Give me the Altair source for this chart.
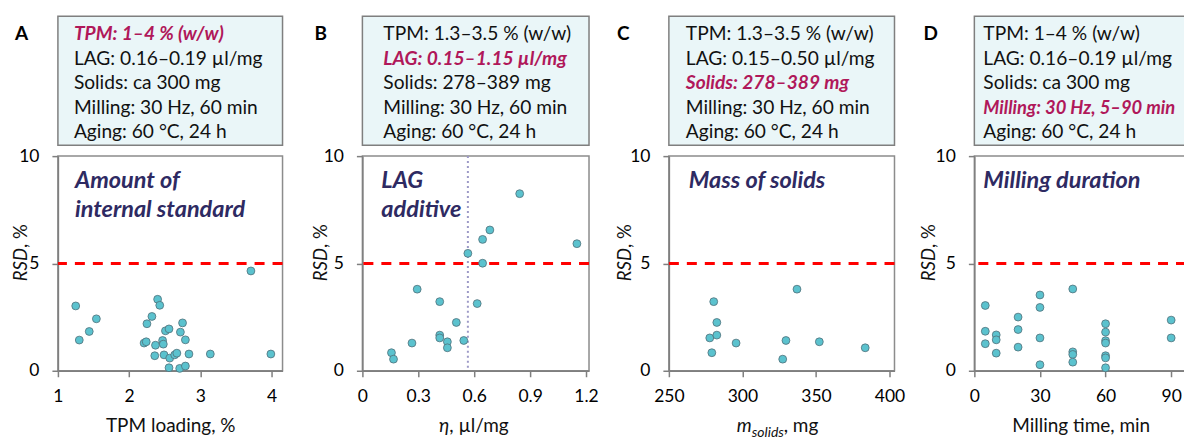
import altair as alt
import pandas as pd

FONT = "Lato"
INK = "#111111"
TITLE_INK = "#2E2A62"
HILITE = "#B0185A"
BOX_FILL = "#EAF6F8"
BOX_EDGE = "#7F7F7F"
FRAME = "#8C8C8C"
AXIS = "#7F7F7F"
DOT_FILL = "#5BC2CE"
DOT_STROKE = "#50707A"

# ---------------- data ----------------
# A: amount of internal standard
tpm_loading = [1.25, 1.30, 1.44, 1.54, 2.40, 2.43, 2.32, 2.25, 2.21, 2.24, 2.37, 2.47,
               2.48, 2.51, 2.56, 2.36, 2.49, 2.57, 2.64, 2.67, 2.72, 2.75, 2.79, 2.84,
               2.56, 2.71, 2.79, 3.14, 3.71, 3.99]
tpm_rsd = [3.02, 1.43, 1.83, 2.42, 3.33, 3.05, 2.53, 2.19, 1.29, 1.35, 1.19, 1.41,
           1.24, 1.86, 1.95, 0.70, 0.74, 0.59, 0.74, 0.82, 1.80, 2.23, 1.44, 0.78,
           0.14, 0.11, 0.22, 0.78, 4.65, 0.78]

# B: LAG additive
lag_eta = [0.156, 0.167, 0.266, 0.294, 0.415, 0.415, 0.415, 0.456, 0.456, 0.504,
           0.544, 0.566, 0.616, 0.645, 0.645, 0.684, 0.844, 1.151]
lag_rsd = [0.84, 0.54, 1.29, 3.80, 3.22, 1.66, 1.53, 1.35, 1.07, 2.25,
           1.41, 5.47, 3.13, 6.12, 5.01, 6.56, 8.25, 5.92]
lag_marker = [0.566]

# C: mass of solids
solids_mg = [277.8, 279.2, 280.5, 282.6, 282.6, 295.7, 327.4, 329.6, 337.1, 352.3, 383.5]
solids_rsd = [1.53, 0.84, 3.22, 2.25, 1.66, 1.29, 0.54, 1.41, 3.80, 1.35, 1.07]

# D: milling duration
mill_min = [5, 5, 5, 10, 10, 10, 20, 20, 20, 30, 30, 30, 30, 45, 45, 45, 45,
            60, 60, 60, 60, 60, 60, 60, 90, 90]
mill_rsd = [3.04, 1.84, 1.26, 1.67, 1.44, 0.82, 2.50, 1.92, 1.10, 3.53, 2.95, 1.53, 0.28,
            3.81, 0.88, 0.76, 0.40, 2.19, 1.80, 1.40, 1.29, 0.70, 0.60, 0.14, 2.36, 1.53]

threshold = [5]
rsd_ticks = [0, 5, 10]

box_A = ["TPM: 1–4 % (w/w)", "LAG: 0.16–0.19 µl/mg", "Solids: ca 300 mg",
         "Milling: 30 Hz, 60 min", "Aging: 60 °C, 24 h"]
box_B = ["TPM: 1.3–3.5 % (w/w)", "LAG: 0.15–1.15 µl/mg", "Solids: 278–389 mg",
         "Milling: 30 Hz, 60 min", "Aging: 60 °C, 24 h"]
box_C = ["TPM: 1.3–3.5 % (w/w)", "LAG: 0.15–0.50 µl/mg", "Solids: 278–389 mg",
         "Milling: 30 Hz, 60 min", "Aging: 60 °C, 24 h"]
box_D = ["TPM: 1–4 % (w/w)", "LAG: 0.16–0.19 µl/mg", "Solids: ca 300 mg",
         "Milling: 30 Hz, 5–90 min", "Aging: 60 °C, 24 h"]

BOX_H = 129
PLOT_H = 215
BOX_FS = 19.2
TITLE_FS = 19


def box(letter, lines, hi, width, text_x, letter_x, hi_fs=BOX_FS):
    df = pd.DataFrame({"line": list(range(len(lines))), "text": lines,
                       "hi": [i == hi for i in range(len(lines))]})
    y = alt.Y("line:Q", axis=None, scale=alt.Scale(domain=[0, 4], range=[18, 116]))
    normal = alt.Chart(df).transform_filter("!datum.hi").mark_text(
        align="left", baseline="middle", fontSize=BOX_FS, color=INK
    ).encode(x=alt.value(text_x), y=y, text="text:N")
    hl = alt.Chart(df).transform_filter("datum.hi").mark_text(
        align="left", baseline="middle", fontSize=hi_fs, fontStyle="italic",
        fontWeight="bold", color=HILITE
    ).encode(x=alt.value(text_x), y=y, text="text:N")
    lab = alt.Chart(pd.DataFrame({"t": [letter]})).mark_text(
        align="left", baseline="middle", fontSize=19, fontWeight="bold", color="#000000"
    ).encode(x=alt.value(letter_x), y=alt.value(18), text="t:N")
    return alt.layer(normal, hl, lab).properties(
        width=width, height=BOX_H,
        view=alt.ViewBackground(fill=BOX_FILL, stroke=BOX_EDGE, strokeWidth=1.5),
    )


def panel(xs, ys, domain, ticks, width, ylab_x, label_lines, label_x, xtitle, vline=None):
    df = pd.DataFrame({"x": xs, "rsd": ys})
    xenc = alt.X("x:Q", scale=alt.Scale(domain=domain, nice=False, zero=False),
                 axis=alt.Axis(values=ticks, title=None, labelExpr="'' + datum.value",
                               labelFontSize=17.5, tickSize=6, labelPadding=11,
                               labelFlush=False))
    yenc = alt.Y("rsd:Q", scale=alt.Scale(domain=[0, 10], nice=False),
                 axis=alt.Axis(values=rsd_ticks, title=None, labelFontSize=17.5,
                               tickSize=6, labelPadding=13, labelFlush=False))
    layers = []
    layers.append(alt.Chart(pd.DataFrame({"rsd": threshold})).mark_rule(
        color="#FF0000", strokeWidth=3, strokeDash=[10, 8]).encode(y="rsd:Q"))
    if vline is not None:
        layers.append(alt.Chart(pd.DataFrame({"x": vline})).mark_rule(
            color="#9D99C7", strokeWidth=2, strokeDash=[2, 3]).encode(x="x:Q"))
    layers.append(alt.Chart(df).mark_circle(
        size=62, fill=DOT_FILL, stroke=DOT_STROKE, strokeWidth=0.8, opacity=1
    ).encode(x=xenc, y=yenc))
    layers.append(alt.Chart(pd.DataFrame({"t": [0]})).mark_text(
        align="left", baseline="alphabetic", fontSize=23.5, fontWeight="bold",
        fontStyle="italic", color=TITLE_INK, lineHeight=29
    ).encode(x=alt.value(label_x), y=alt.value(32), text=alt.value(label_lines)))
    # y-axis title: italic "RSD" + ", %"
    layers.append(alt.Chart(pd.DataFrame({"t": [0]})).mark_text(
        angle=270, align="right", baseline="alphabetic", fontSize=18.5, fontStyle="italic",
        color=INK).encode(x=alt.value(ylab_x), y=alt.value(92), text=alt.value("RSD")))
    layers.append(alt.Chart(pd.DataFrame({"t": [0]})).mark_text(
        angle=270, align="left", baseline="alphabetic", fontSize=18.5,
        color=INK).encode(x=alt.value(ylab_x), y=alt.value(92), text=alt.value(", %")))
    # x-axis title pieces
    for part in xtitle:
        layers.append(alt.Chart(pd.DataFrame({"t": [0]})).mark_text(
            align=part["align"], baseline="alphabetic", fontSize=part.get("size", TITLE_FS),
            fontStyle=part.get("style", "normal"), color=INK
        ).encode(x=alt.value(part["x"]), y=alt.value(PLOT_H + 61 + part.get("dy", 0)),
                 text=alt.value(part["text"])))
    return alt.layer(*layers).properties(
        width=width, height=PLOT_H,
        view=alt.ViewBackground(fill="white", stroke=FRAME, strokeWidth=1.5),
    )


WA, WB, WC, WD = 225, 227, 226, 230

boxes = [
    box("A", box_A, 0, WA, 16, -43),
    box("B", box_B, 1, WB, 21, -48),
    box("C", box_C, 2, WC, 17, -52),
    box("D", box_D, 3, WD, 9, -51, hi_fs=18.4),
]

plots = [
    panel(tpm_loading, tpm_rsd, [1, 4.154], [1, 2, 3, 4], WA, -31,
          ["Amount of", "internal standard"], 17,
          [{"text": "TPM loading, %", "x": 113, "align": "center"}]),
    panel(lag_eta, lag_rsd, [0, 1.216], [0, 0.3, 0.6, 0.9, 1.2], WB, -35,
          ["LAG", "additive"], 19,
          [{"text": "η", "x": 87, "align": "right", "style": "italic"},
           {"text": ", µl/mg", "x": 87, "align": "left"}],
          vline=lag_marker),
    panel(solids_mg, solids_rsd, [250, 403.4], [250, 300, 350, 400], WC, -38,
          ["Mass of solids"], 20,
          [{"text": "m", "x": 83, "align": "right", "style": "italic"},
           {"text": "solids", "x": 83, "align": "left", "style": "italic", "size": 14, "dy": 5},
           {"text": ", mg", "x": 115, "align": "left"}]),
    panel(mill_min, mill_rsd, [0, 105], [0, 30, 60, 90], WD, -39,
          ["Milling duration"], 9,
          [{"text": "Milling time, min", "x": 107, "align": "center"}]),
]

chart = alt.concat(
    *boxes, *plots, columns=4, spacing={"row": 11, "column": 80},
    bounds="flush", align="each",
).properties(
    padding={"left": 3, "top": 7, "right": -23, "bottom": 2},
    background="white",
).configure(font=FONT).configure_axis(
    domainColor=AXIS, domainWidth=1.5, tickColor=AXIS, tickWidth=1.5,
    labelColor="#000000", grid=False, labelFont=FONT,
)

chart.save("out.html", embed_options={"renderer": "svg", "actions": False})
